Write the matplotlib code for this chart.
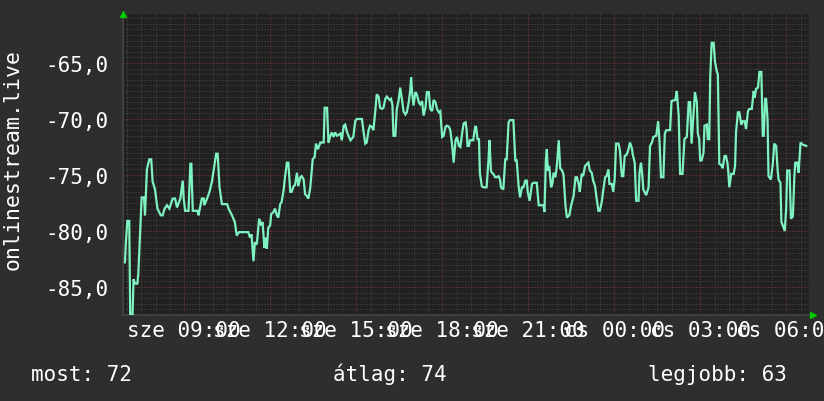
import numpy as np
import matplotlib
matplotlib.use("Agg")
import matplotlib.pyplot as plt
from matplotlib.ticker import MultipleLocator, FixedLocator

# =========================
# DATA (minutes after 06:54, signal value)
# =========================
start_hour = 6.9

minutes = [
    2, 4, 7, 11, 13, 18, 20, 23, 28, 30, 34, 37, 42, 44, 48, 53, 57, 60, 65, 70,
    77, 81, 85, 90, 95, 102, 107, 111, 118, 123, 125, 128, 135, 139, 141, 144, 154, 156, 163, 167,
    168, 174, 179, 184, 188, 193, 196, 200, 205, 216, 219, 226, 232,
    236, 241, 260, 264, 267, 271, 274, 278, 283, 287, 290, 294, 297, 299, 302, 306, 308, 313, 316,
    320, 323, 327, 330, 334, 337, 341, 344, 348, 351, 355, 358, 362, 365, 369, 372, 376, 379, 383,
    386, 390, 395, 399, 402, 406, 411, 418, 420, 425, 428, 432, 435, 439, 442, 446, 453, 456, 460,
    463, 467, 470, 474,
    480, 484, 487, 498, 501, 505, 508, 512, 515, 519, 522, 526, 529, 533, 536, 540, 543, 547, 550,
    556, 559, 562, 564, 568, 571, 575, 578, 582, 585, 589, 592, 596, 599, 601, 603, 606, 610, 613,
    617, 620, 624, 627, 631, 634, 638, 641, 645, 648, 652, 655, 659, 662, 666, 669, 673, 676, 680,
    683, 687, 690, 694, 697, 701, 704, 708, 711, 715,
    717, 719, 722, 724, 731, 735, 737, 740, 743, 745, 749, 752, 759, 763, 765, 768, 770, 773, 777,
    780, 784, 787, 789, 794, 798, 801, 805, 808, 815, 819, 822, 826, 829, 833, 836, 840, 843, 845,
    849, 854, 857, 864, 868, 878, 880, 883, 885, 887, 890, 894, 897, 899, 903, 906, 910, 913, 917,
    920, 924, 927, 932, 936, 941, 945, 948, 952,
    954, 958, 961, 965, 972, 975, 979, 982, 986, 989, 993, 996, 1000, 1003, 1007, 1010, 1014, 1016,
    1021, 1024, 1027, 1030, 1035, 1038, 1042, 1045, 1048, 1052, 1056, 1059, 1063, 1065, 1069, 1072,
    1077, 1079, 1082, 1085, 1087, 1093, 1098, 1101, 1105, 1108, 1114, 1118, 1121, 1124, 1129, 1132,
    1135, 1143, 1146, 1154, 1157, 1161, 1164, 1169, 1173, 1178, 1182, 1185, 1188, 1190, 1194,
    1195, 1199, 1201, 1204, 1206, 1209, 1213, 1215, 1220, 1222, 1225, 1227, 1230, 1234, 1237, 1241,
    1243, 1246, 1250, 1253, 1257, 1260, 1263, 1265, 1267, 1271, 1276, 1279, 1281, 1285, 1288, 1292,
    1295, 1299, 1302, 1306, 1309, 1314, 1318, 1320, 1323, 1327, 1330, 1334, 1337, 1339, 1342, 1344,
    1347, 1349, 1354, 1358, 1361, 1365, 1368, 1370, 1374, 1376, 1379, 1383, 1386, 1388, 1393, 1396,
    1400, 1403, 1405, 1409, 1412, 1416, 1421, 1428,
]

signal = [
    -82.8, -81.0, -79.1, -79.1, -87.4, -87.4, -84.3, -84.7, -84.7, -83.8, -80.0, -77.0, -77.0, -78.6, -74.5, -73.6, -73.6, -75.6, -76.3, -78.0,
    -78.6, -78.6, -78.0, -77.7, -78.0, -77.1, -77.1, -77.9, -77.1, -75.5, -77.1, -78.2, -78.2, -74.0, -74.0, -78.2, -78.2, -78.6, -77.1, -77.1,
    -77.7, -77.1, -76.5, -75.6, -74.5, -73.1, -73.1, -76.1, -77.6, -77.6, -78.0, -78.6, -79.2,
    -80.4, -80.1, -80.1, -80.6, -80.3, -82.7, -81.0, -81.2, -78.9, -79.5, -79.2, -81.5, -80.6, -81.6, -79.7, -79.5, -78.5, -78.3, -78.0,
    -78.6, -78.8, -77.6, -77.4, -76.4, -75.2, -73.9, -73.9, -76.5, -76.5, -76.0, -75.9, -74.8, -76.0, -75.2, -75.1, -75.4, -76.7, -76.9,
    -77.1, -76.1, -73.6, -73.4, -72.2, -72.7, -72.1, -72.1, -69.0, -69.0, -72.1, -71.5, -71.2, -71.6, -71.2, -71.5, -71.3, -71.9, -70.6,
    -70.5, -71.2, -71.5, -71.9,
    -71.6, -70.2, -70.0, -70.0, -71.0, -72.2, -72.1, -71.0, -70.6, -70.7, -71.0, -69.3, -67.8, -68.0, -69.0, -69.1, -69.0, -68.2, -68.0,
    -68.3, -68.2, -68.8, -71.5, -71.5, -69.1, -68.3, -67.2, -68.3, -69.3, -69.6, -69.4, -68.5, -67.5, -66.3, -67.6, -68.8, -67.6, -67.8,
    -68.5, -68.7, -68.4, -69.7, -69.0, -67.6, -67.6, -69.1, -69.3, -68.3, -68.5, -69.1, -69.4, -69.3, -71.6, -71.5, -70.7, -70.6, -70.7,
    -71.0, -72.4, -73.9, -71.9, -71.6, -72.4, -72.5, -71.2, -70.4, -70.3,
    -70.9, -72.4, -72.4, -71.9, -71.9, -70.7, -70.7, -71.8, -71.8, -74.9, -76.0, -76.1, -76.1, -73.6, -71.9, -74.6, -74.8, -74.9, -75.2,
    -75.2, -75.1, -75.4, -76.1, -76.3, -73.6, -73.6, -70.3, -70.1, -70.1, -73.7, -73.7, -76.0, -77.0, -76.1, -76.1, -75.5, -75.5, -76.5,
    -77.3, -75.8, -75.7, -75.7, -77.7, -77.7, -78.3, -73.7, -72.7, -74.6, -74.2, -76.1, -75.7, -74.8, -75.2, -74.2, -71.9, -74.4, -74.6,
    -75.0, -77.7, -78.8, -78.6, -77.7, -76.9, -75.2, -75.2, -75.9,
    -76.5, -74.9, -75.1, -74.2, -73.9, -74.6, -74.8, -75.5, -76.0, -77.0, -78.2, -78.2, -77.4, -76.4, -75.2, -75.1, -74.5, -75.8,
    -75.8, -76.5, -75.4, -72.2, -72.2, -72.8, -75.1, -75.1, -73.3, -73.2, -72.7, -72.1, -72.6, -73.2, -73.9, -77.3,
    -77.3, -74.8, -73.9, -75.1, -76.3, -76.8, -76.1, -72.4, -72.1, -71.6, -71.5, -70.2, -72.1, -75.2, -75.2, -71.3,
    -71.0, -71.0, -68.4, -68.3, -67.5, -69.7, -74.9, -74.9, -71.8, -71.6, -68.5, -68.5, -72.2, -70.9, -68.4,
    -67.6, -68.5, -71.3, -71.8, -73.7, -73.7, -73.0, -70.6, -70.5, -71.8, -71.8, -66.3, -63.2, -63.2, -64.9, -65.8,
    -66.0, -74.0, -74.1, -74.4, -73.3, -73.3, -73.9, -74.8, -76.1, -74.9, -74.9, -74.2, -71.2, -69.4, -69.4, -70.5,
    -70.2, -70.2, -70.9, -69.3, -69.1, -69.1, -67.5, -68.1, -67.3, -67.2, -65.8, -65.8, -71.5, -71.5, -68.2, -68.2,
    -70.0, -75.1, -75.4, -74.0, -72.2, -72.4, -74.5, -75.4, -75.7, -79.2, -79.5, -80.0, -78.0, -74.6, -74.6, -78.9,
    -78.7, -75.2, -73.9, -73.9, -74.8, -72.1, -72.3, -72.4,
]

y_ticks = [-85, -80, -75, -70, -65]
x_ticks = [9, 12, 15, 18, 21, 24, 27, 30]
day_names = ["sze", "cs"]

series_name = "onlinestream.live"
legend_items = [("most", 72), ("átlag", 74), ("legjobb", 63)]

# =========================
# STYLE
# =========================
W, H = 824, 402
bg_outer = "#2e2e2e"
bg_plot = "#212121"
line_col = "#7ef2c0"
minor_col = "#4a4a4a"
major_col = "#8a3a3a"
font = "DejaVu Sans Mono"
fs = 15

plt.rcParams["font.family"] = font

fig = plt.figure(figsize=(W / 100, H / 100), dpi=100, facecolor=bg_outer)

left, right, top, bottom = 123.5, 809.5, 14.7, 316.0
ax = fig.add_axes([left / W, 1 - bottom / H, (right - left) / W, (bottom - top) / H])
ax.set_facecolor(bg_plot)

hours = start_hour + np.array(minutes) / 60.0
ax.plot(hours, signal, color=line_col, lw=1.6, solid_joinstyle="miter", zorder=3)

ax.set_xlim(start_hour - 1.0 / 60, start_hour + 1434.8 / 60)
ax.set_ylim(-87.5, -60.6)

# grid
ax.xaxis.set_major_locator(FixedLocator(x_ticks))
ax.xaxis.set_minor_locator(MultipleLocator(0.5))
ax.yaxis.set_major_locator(FixedLocator(y_ticks))
ax.yaxis.set_minor_locator(MultipleLocator(0.5))
ax.grid(which="minor", color=minor_col, lw=0.72, ls=(0, (1, 2)), zorder=1)
ax.grid(which="major", color=major_col, lw=0.72, ls=(0, (1, 2)), zorder=2)

def xlab(h):
    d = int(h // 24)
    return f"{day_names[d]} {int(h % 24):02d}:00"

ax.set_xticklabels([xlab(h) for h in x_ticks])
ax.set_yticklabels([f"{v:.1f}".replace(".", ",") for v in y_ticks])
ax.tick_params(which="both", length=0, colors="white", labelsize=fs)
ax.tick_params(axis="x", pad=3.5)
ax.tick_params(axis="y", pad=10.5)

for s in ["top", "right"]:
    ax.spines[s].set_visible(False)
for s in ["left", "bottom"]:
    ax.spines[s].set_color("#444444")
    ax.spines[s].set_linewidth(1.2)

# rrdtool style arrows
ax.plot([0], [1.0], marker="^", color="#00cc00", ms=5, transform=ax.transAxes, clip_on=False, zorder=5)
ax.plot([1.005], [0.0], marker=">", color="#00cc00", ms=5, transform=ax.transAxes, clip_on=False, zorder=5)

fig.text(13 / W, 1 - 160 / H, series_name, rotation=90, color="white",
         fontsize=15.5, ha="center", va="center")

leg_x = [31, 333, 648]
for (name, val), lx in zip(legend_items, leg_x):
    fig.text(lx / W, 1 - 381 / H, f"{name}: {val}", color="white",
             fontsize=fs, ha="left", va="baseline")

fig.savefig("out.png", dpi=100, facecolor=bg_outer)
